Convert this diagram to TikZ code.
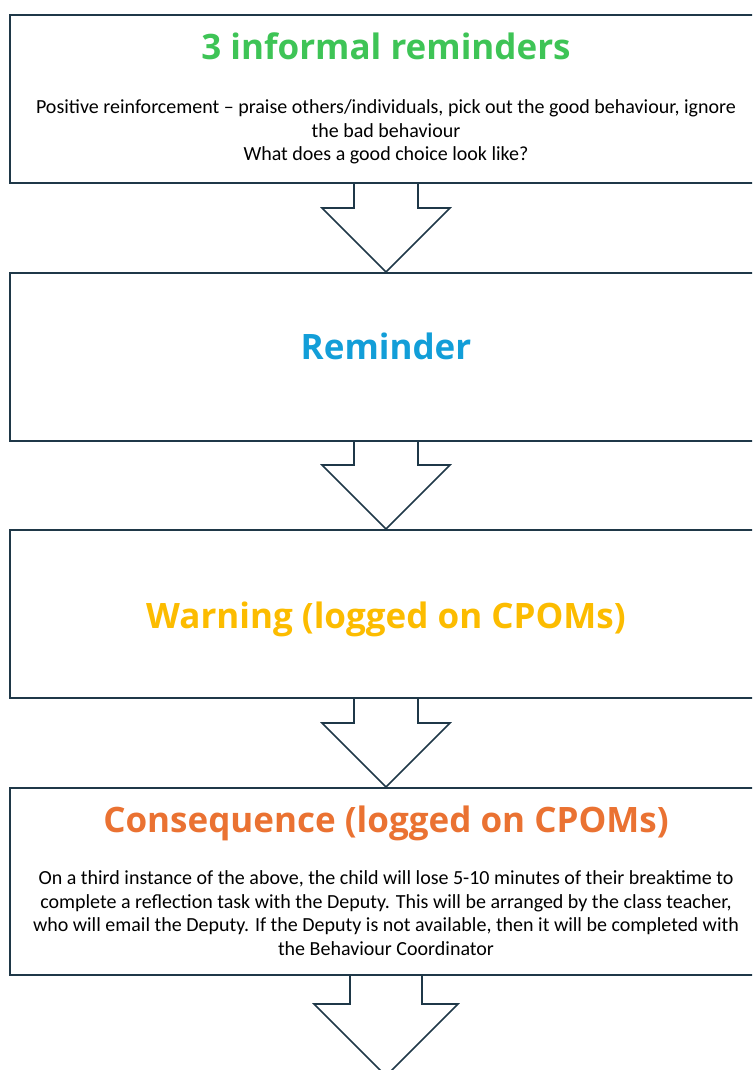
\documentclass[tikz,border=0pt]{standalone}
\usepackage{fontspec}
\setmainfont{Carlito}
\newfontfamily\headfont{Open Sans}
\usetikzlibrary{calc}
\definecolor{edge}{RGB}{31,56,72}
\definecolor{rgreen}{RGB}{62,196,86}
\definecolor{rblue}{RGB}{18,158,216}
\definecolor{rgold}{RGB}{252,188,0}
\definecolor{rorange}{RGB}{234,114,50}
\begin{document}
\begin{tikzpicture}
  [x=1pt,y=-1pt,
   box/.style={draw=edge,line width=2pt,minimum width=752pt,inner sep=0pt},
   title/.style={anchor=base,font=\headfont\bfseries\fontsize{35}{38}\selectfont},
   body/.style={align=center,font=\fontsize{20}{23.5}\selectfont}]
  \useasboundingbox (0,0) rectangle (752,1070);
  \clip (0,0) rectangle (752,1070);

  \node[box,minimum height=168pt] (b1) at (386,99) {};
  \node[box,minimum height=168pt] (b2) at (386,357) {};
  \node[box,minimum height=168pt] (b3) at (386,614) {};
  \node[box,minimum height=187pt] (b4) at (386,881.5) {};
  \coordinate (b5) at (386,1076);

  \node[title,text=rgreen] (t1) at (386,60) {3 informal reminders};
  \node[body] (d1) at (386,132) {Positive reinforcement -- praise others/individuals, pick out the good behaviour, ignore\\the bad behaviour\\What does a good choice look like?};
  \node[title,text=rblue] (t2) at (386,359) {Reminder};
  \node[title,text=rgold] (t3) at (386,628) {Warning (logged on CPOMs)};
  \node[title,text=rorange] (t4) at (386,832) {Consequence (logged on CPOMs)};
  \node[body] (d4) at (386,913) {On a third instance of the above, the child will lose 5-10 minutes of their breaktime to\\complete a reflection task with the Deputy. This will be arranged by the class teacher,\\who will email the Deputy. If the Deputy is not available, then it will be completed with\\the Behaviour Coordinator};

  \foreach \from/\to in {b1/b2,b2/b3,b3/b4}
    \draw[edge,line width=1.6pt,line join=miter]
      ($(\from.south)+(-32,0)$) -- ($(\to.north)+(-32,-64)$) -- ($(\to.north)+(-64,-64)$)
      -- (\to.north) -- ($(\to.north)+(64,-64)$) -- ($(\to.north)+(32,-64)$)
      -- ($(\from.south)+(32,0)$);
  \draw[edge,line width=1.6pt,line join=miter]
    ($(b4.south)+(-36,0)$) -- ($(b5)+(-36,-72)$) -- ($(b5)+(-72,-72)$)
    -- (b5) -- ($(b5)+(72,-72)$) -- ($(b5)+(36,-72)$) -- ($(b4.south)+(36,0)$);
\end{tikzpicture}
\end{document}
